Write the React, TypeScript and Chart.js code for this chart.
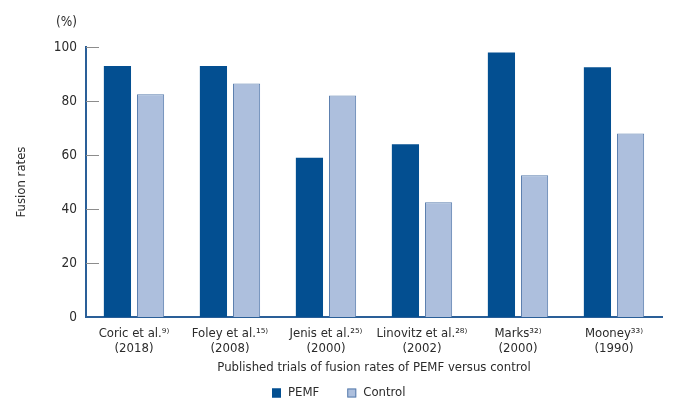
import React, { useEffect, useRef } from 'react';
import { Chart, registerables } from 'chart.js';
import type { Plugin } from 'chart.js';

Chart.register(...registerables);

// Data
const studies: string[][] = [
  ['Coric et al.⁹⁾', '(2018)'],
  ['Foley et al.¹⁵⁾', '(2008)'],
  ['Jenis et al.²⁵⁾', '(2000)'],
  ['Linovitz et al.²⁸⁾', '(2002)'],
  ['Marks³²⁾', '(2000)'],
  ['Mooney³³⁾', '(1990)'],
];
const pemfRates = [93, 93, 59, 64, 98, 92.5];
const controlRates = [82.5, 86.5, 82, 42.5, 52.5, 68];
const yTicks = [0, 20, 40, 60, 80, 100];

const FONT = '"Liberation Sans Narrow", "DejaVu Sans Condensed", Roboto, sans-serif';
const TEXT = '#2b2b2b';
const AXIS = '#2a5f98';

// short tick marks pointing into the plot, plus the "(%)" unit label
const innerTicks: Plugin<'bar'> = {
  id: 'innerTicks',
  afterDraw(chart) {
    const { ctx, chartArea, scales } = chart;
    const y = scales.y;
    ctx.save();
    ctx.strokeStyle = '#8c8c8c';
    ctx.lineWidth = 1;
    yTicks.forEach((v) => {
      if (v === 0) return;
      const py = Math.round(y.getPixelForValue(v)) + 0.5;
      ctx.beginPath();
      ctx.moveTo(chartArea.left, py);
      ctx.lineTo(chartArea.left + 13, py);
      ctx.stroke();
    });
    ctx.fillStyle = TEXT;
    ctx.font = `13.5px ${FONT}`;
    ctx.textAlign = 'right';
    ctx.textBaseline = 'middle';
    ctx.fillText('(%)', chartArea.left - 9, chartArea.top - 25);
    ctx.restore();
  },
};

// legend under the axis title, drawn from the dataset colours
const bottomLegend: Plugin<'bar'> = {
  id: 'bottomLegend',
  afterDraw(chart) {
    const { ctx, width } = chart;
    const sets = chart.data.datasets;
    const box = 9;
    const gap = 7;
    const spacing = 28;
    ctx.save();
    ctx.font = `13px ${FONT}`;
    ctx.textBaseline = 'middle';
    ctx.textAlign = 'left';
    const widths = sets.map((d) => box + gap + ctx.measureText(String(d.label)).width);
    const total = widths.reduce((a, b) => a + b, 0) + spacing * (sets.length - 1);
    let x = Math.round((width - total) / 2);
    const cy = 393;
    sets.forEach((d, i) => {
      ctx.fillStyle = d.backgroundColor as string;
      ctx.fillRect(x, cy - box / 2, box, box);
      ctx.strokeStyle = d.borderColor as string;
      ctx.lineWidth = 1;
      ctx.strokeRect(x + 0.5, cy - box / 2 + 0.5, box - 1, box - 1);
      ctx.fillStyle = TEXT;
      ctx.fillText(String(d.label), x + box + gap, cy);
      x += widths[i] + spacing;
    });
    ctx.restore();
  },
};

const App: React.FC = () => {
  const canvasRef = useRef<HTMLCanvasElement | null>(null);
  const chartRef = useRef<Chart<'bar'> | null>(null);

  useEffect(() => {
    document.body.style.margin = '0';
    if (!canvasRef.current) return;
    if (chartRef.current) chartRef.current.destroy();

    chartRef.current = new Chart(canvasRef.current, {
      type: 'bar',
      data: {
        labels: studies,
        datasets: [
          {
            label: 'PEMF',
            data: pemfRates,
            backgroundColor: '#034f91',
            borderColor: '#034f91',
            borderWidth: 0,
            categoryPercentage: 0.69,
            barPercentage: 0.82,
          },
          {
            label: 'Control',
            data: controlRates,
            backgroundColor: '#adbfdd',
            borderColor: '#5b7fae',
            borderWidth: 1,
            categoryPercentage: 0.69,
            barPercentage: 0.82,
          },
        ],
      },
      options: {
        animation: false,
        responsive: true,
        maintainAspectRatio: false,
        layout: { padding: { top: 47, right: 16, bottom: 33, left: 0 } },
        plugins: {
          legend: { display: false },
          tooltip: { enabled: false },
        },
        scales: {
          x: {
            z: 1,
            grid: { display: false, drawTicks: false },
            border: { display: true, color: AXIS, width: 2 },
            ticks: {
              color: TEXT,
              padding: 9,
              maxRotation: 0,
              autoSkip: false,
              font: { family: FONT, size: 13, lineHeight: 1.15 },
            },
            title: {
              display: true,
              text: 'Published trials of fusion rates of PEMF versus control',
              color: TEXT,
              font: { family: FONT, size: 13, lineHeight: 1 },
              padding: { top: 0, bottom: 0 },
            },
            afterFit: (scale) => {
              scale.height = 57;
            },
          },
          y: {
            z: 1,
            min: 0,
            max: 100,
            afterBuildTicks: (scale) => {
              scale.ticks = yTicks.map((v) => ({ value: v }));
            },
            grid: { display: false, drawTicks: false },
            border: { display: true, color: AXIS, width: 2 },
            ticks: {
              color: TEXT,
              padding: 9,
              font: { family: FONT, size: 13.5 },
            },
            title: {
              display: true,
              text: 'Fusion rates',
              color: TEXT,
              font: { family: FONT, size: 13 },
              padding: { top: 14, bottom: 0 },
            },
            afterFit: (scale) => {
              scale.width = 86;
            },
          },
        },
      },
      plugins: [innerTicks, bottomLegend],
    });

    return () => {
      if (chartRef.current) {
        chartRef.current.destroy();
        chartRef.current = null;
      }
    };
  }, []);

  return (
    <div style={{ position: 'relative', width: 678, height: 407, background: '#fff' }}>
      <canvas ref={canvasRef} />
    </div>
  );
};

export default App;
